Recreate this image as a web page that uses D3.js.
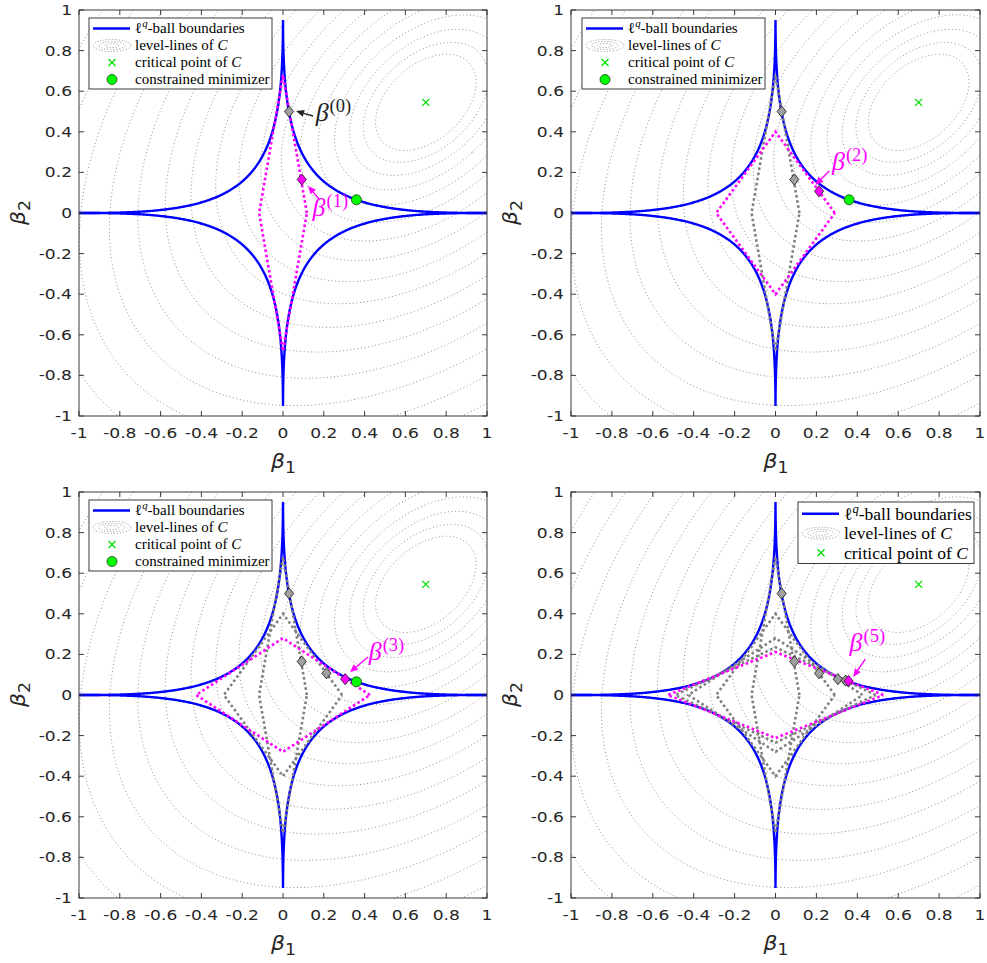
<!DOCTYPE html>
<html>
<head>
<meta charset="utf-8">
<script src="https://cdn.jsdelivr.net/npm/d3@7"></script>
<style>
  body { margin: 0; background: #fff; }
  text { font-family: "DejaVu Sans", sans-serif; }
  .serif, .serif text { font-family: "Liberation Serif", "DejaVu Serif", serif; }
</style>
</head>
<body>
<svg id="fig" width="987" height="963"></svg>
<script>
// ---- data ----
const tickValues = [-1, -0.8, -0.6, -0.4, -0.2, 0, 0.2, 0.4, 0.6, 0.8, 1];
const tickLabels = ["-1", "-0.8", "-0.6", "-0.4", "-0.2", "0", "0.2", "0.4", "0.6", "0.8", "1"];

// l^q ball |b1|^q + |b2|^q = r^q
const lqOrder = 0.4;
const lqRadius = 1;
const lqTipY = 0.945;

// quadratic cost C, its critical point and the drawn level values (sqrt of C)
const critPoint = [0.70, 0.545];
const quadForm = [[1, -0.431], [-0.431, 1.078]];
const levelRho = [0.224, 0.279, 0.340, 0.407, 0.480, 0.560, 0.645, 0.736, 0.834, 0.937,
                  1.047, 1.162, 1.284, 1.411, 1.545, 1.685, 1.831, 1.982, 2.140];

// iterates beta^(0..5)
const iterX = [0.03, 0.092, 0.213, 0.305, 0.343, 0.357];
const iterY = [0.50, 0.165, 0.107, 0.078, 0.071, 0.069];
// weighted l1 balls of iterations 1..5 (vertex on b1 axis, vertex on b2 axis)
const ballX = [0.117, 0.29, 0.426, 0.49, 0.527];
const ballY = [0.68, 0.40, 0.28, 0.235, 0.212];
const minimizer = [0.36, 0.065];

// annotation anchors: [arrow tail, arrow head, text start] in data units
const notes = [
  { k: 0, tail: [0.147, 0.478], head: [0.064, 0.502], text: [0.160, 0.455], color: "#222" },
  { k: 1, tail: [0.181, 0.064], head: [0.123, 0.133], text: [0.145, -0.015], color: "#ff00ff" },
  { k: 2, tail: [0.263, 0.207], head: [0.195, 0.138], text: [0.276, 0.212], color: "#ff00ff" },
  { k: 3, tail: [0.417, 0.187], head: [0.328, 0.113], text: [0.420, 0.172], color: "#ff00ff" },
  { k: 5, tail: [0.439, 0.177], head: [0.380, 0.089], text: [0.362, 0.215], color: "#ff00ff" }
];

const panels = [
  { left: 79, right: 487, top: 10, bottom: 416, step: 1, note: 0,
    legend: { x: 89, y: 18, w: 183, rowH: 17, font: 15, rows: 4 } },
  { left: 571, right: 980, top: 10, bottom: 416, step: 2, note: 2,
    legend: { x: 582, y: 18, w: 183, rowH: 17, font: 15, rows: 4 } },
  { left: 79, right: 487, top: 492, bottom: 898, step: 3, note: 3,
    legend: { x: 89, y: 500, w: 183, rowH: 17, font: 15, rows: 4 } },
  { left: 571, right: 980, top: 492, bottom: 898, step: 5, note: 4,
    legend: { x: 798, y: 502, w: 176, rowH: 19.5, font: 17.5, rows: 3 } }
];

const svg = d3.select("#fig");
const axisColor = "#262626";

// points of the l^q ball boundary, one quadrant, from (r,0) to the tip near (0,r)
function lqQuadrant() {
  const e = 2 / lqOrder;
  const tMax = Math.asin(Math.pow(lqTipY / lqRadius, 1 / e));
  return d3.range(0, 401).map(i => {
    const t = tMax * i / 400;
    return [lqRadius * Math.pow(Math.cos(t), e), lqRadius * Math.pow(Math.sin(t), e)];
  });
}

// level-line ellipse {d : d'Ad = rho^2} around the critical point
function ellipse(rho) {
  const a = quadForm[0][0], b = quadForm[0][1], c = quadForm[1][1];
  const th = 0.5 * Math.atan2(2 * b, a - c);
  const m = (a + c) / 2, h = Math.sqrt(((a - c) / 2) ** 2 + b * b);
  const l1 = m + h, l2 = m - h;
  const v1 = [Math.cos(th), Math.sin(th)], v2 = [-Math.sin(th), Math.cos(th)];
  return d3.range(0, 361).map(i => {
    const t = i * Math.PI / 180;
    const u = rho * Math.cos(t) / Math.sqrt(l1), w = rho * Math.sin(t) / Math.sqrt(l2);
    return [critPoint[0] + u * v1[0] + w * v2[0], critPoint[1] + u * v1[1] + w * v2[1]];
  });
}

// beta^(k) with superscript, serif like the LaTeX labels
function betaLabel(sel, k, big, small, rise) {
  sel.append("tspan").attr("font-size", big).attr("font-style", "italic").text("β");
  sel.append("tspan").attr("font-size", small).attr("dx", 1).attr("dy", -rise).text(`(${k})`);
}

const quad = lqQuadrant();

panels.forEach((p, pi) => {
  const x = d3.scaleLinear().domain([-1, 1]).range([p.left, p.right]);
  const y = d3.scaleLinear().domain([-1, 1]).range([p.bottom, p.top]);
  const line = d3.line().x(d => x(d[0])).y(d => y(d[1]));

  const clipId = "clip" + pi;
  svg.append("clipPath").attr("id", clipId)
    .append("rect")
    .attr("x", p.left).attr("y", p.top)
    .attr("width", p.right - p.left).attr("height", p.bottom - p.top);

  const g = svg.append("g");
  const plot = g.append("g").attr("clip-path", `url(#${clipId})`);

  // level-lines of C
  levelRho.forEach(r => {
    plot.append("path")
      .attr("d", line(ellipse(r)))
      .attr("fill", "none")
      .attr("stroke", "#8f8f8f")
      .attr("stroke-width", 1)
      .attr("stroke-dasharray", "1,2.6");
  });

  // l^q ball boundaries, upper and lower halves
  [1, -1].forEach(sy => {
    const leftPart = quad.map(d => [-d[0], sy * d[1]]);
    const rightPart = quad.slice().reverse().map(d => [d[0], sy * d[1]]);
    plot.append("path")
      .attr("d", line(leftPart.concat(rightPart)))
      .attr("fill", "none")
      .attr("stroke", "#0000ff")
      .attr("stroke-width", 2.4);
  });

  // weighted l1 balls: earlier ones gray, current one magenta (drawn last)
  d3.range(1, p.step + 1).forEach(k => {
    const isCur = k === p.step;
    const a = ballX[k - 1], b = ballY[k - 1];
    plot.append("path")
      .attr("d", line([[a, 0], [0, b], [-a, 0], [0, -b], [a, 0]]))
      .attr("fill", "none")
      .attr("stroke", isCur ? "#ff00ff" : "#808080")
      .attr("stroke-width", 2.6)
      .attr("stroke-dasharray", "2.6,2.6");
  });

  // critical point of C
  const cx = x(critPoint[0]), cy = y(critPoint[1]);
  plot.append("path")
    .attr("d", `M${cx - 3.5},${cy - 3.5}L${cx + 3.5},${cy + 3.5}M${cx - 3.5},${cy + 3.5}L${cx + 3.5},${cy - 3.5}`)
    .attr("stroke", "#00e000")
    .attr("stroke-width", 1.3);

  // constrained minimizer
  if (p.step < 5) {
    plot.append("circle")
      .attr("cx", x(minimizer[0])).attr("cy", y(minimizer[1]))
      .attr("r", 5)
      .attr("fill", "#00ff00")
      .attr("stroke", "#1a3a1a")
      .attr("stroke-width", 0.8);
  }

  // iterates as diamonds
  d3.range(0, p.step + 1).forEach(k => {
    const ix = x(iterX[k]), iy = y(iterY[k]);
    plot.append("path")
      .attr("d", `M${ix},${iy - 5.6}L${ix + 4.6},${iy}L${ix},${iy + 5.6}L${ix - 4.6},${iy}Z`)
      .attr("fill", k === p.step ? "#ff00ff" : "#a0a0a0")
      .attr("stroke", "#111")
      .attr("stroke-width", 0.8);
  });

  // annotations
  const shownNotes = pi === 0 ? [notes[0], notes[1]] : [notes[p.note]];
  shownNotes.forEach(n => {
    const x1 = x(n.tail[0]), y1 = y(n.tail[1]);
    const x2 = x(n.head[0]), y2 = y(n.head[1]);
    const ang = Math.atan2(y2 - y1, x2 - x1);
    const hl = 8, hw = 3.5;
    const bx = x2 - hl * Math.cos(ang), by = y2 - hl * Math.sin(ang);
    g.append("line")
      .attr("x1", x1).attr("y1", y1).attr("x2", bx).attr("y2", by)
      .attr("stroke", n.color).attr("stroke-width", 1.4);
    g.append("path")
      .attr("d", `M${x2},${y2}L${bx - hw * Math.sin(ang)},${by + hw * Math.cos(ang)}L${bx + hw * Math.sin(ang)},${by - hw * Math.cos(ang)}Z`)
      .attr("fill", n.color);
    const t = g.append("text")
      .attr("class", "serif")
      .attr("x", x(n.text[0])).attr("y", y(n.text[1]))
      .attr("fill", n.color);
    betaLabel(t, n.k, 26, 18.5, 9);
  });

  // box and ticks
  g.append("rect")
    .attr("x", p.left).attr("y", p.top)
    .attr("width", p.right - p.left).attr("height", p.bottom - p.top)
    .attr("fill", "none").attr("stroke", axisColor).attr("stroke-width", 0.9);

  tickValues.forEach((v, i) => {
    const tx = x(v), ty = y(v);
    g.append("path")
      .attr("d", `M${tx},${p.bottom}v-5M${tx},${p.top}v5M${p.left},${ty}h5M${p.right},${ty}h-5`)
      .attr("stroke", axisColor).attr("stroke-width", 0.9);
    g.append("text")
      .attr("transform", `translate(${tx},${p.bottom + 22}) scale(1.22,1)`)
      .attr("text-anchor", "middle")
      .attr("font-size", 14)
      .attr("fill", axisColor)
      .text(tickLabels[i]);
    g.append("text")
      .attr("transform", `translate(${p.left - 7},${ty + 5}) scale(1.22,1)`)
      .attr("text-anchor", "end")
      .attr("font-size", 14)
      .attr("fill", axisColor)
      .text(tickLabels[i]);
  });

  // axis labels
  const xl = g.append("text")
    .attr("transform", `translate(${(p.left + p.right) / 2 - 12},${p.bottom + 52}) scale(1.15,1)`)
    .attr("fill", axisColor);
  xl.append("tspan").attr("font-size", 19).attr("font-style", "italic").text("β");
  xl.append("tspan").attr("font-size", 15).attr("dy", 5).text("1");

  const yl = g.append("text")
    .attr("transform", `translate(${p.left - 54},${(p.top + p.bottom) / 2 + 12}) rotate(-90) scale(1.15,1)`)
    .attr("fill", axisColor);
  yl.append("tspan").attr("font-size", 19).attr("font-style", "italic").text("β");
  yl.append("tspan").attr("font-size", 15).attr("dy", 5).text("2");

  // legend
  const L = p.legend;
  const h = L.rowH * L.rows + 3;
  const lg = g.append("g").attr("class", "serif");
  lg.append("rect")
    .attr("x", L.x).attr("y", L.y).attr("width", L.w).attr("height", h)
    .attr("fill", "#fff").attr("stroke", axisColor).attr("stroke-width", 0.9);
  const rowY = i => L.y + 2 + L.rowH * (i + 0.5);
  const mx = L.x + 23;

  lg.append("line")
    .attr("x1", L.x + 4).attr("x2", L.x + 41)
    .attr("y1", rowY(0)).attr("y2", rowY(0))
    .attr("stroke", "#0000ff").attr("stroke-width", 2.4);
  [[19, 6], [13, 4], [7, 2]].forEach(e => {
    lg.append("ellipse")
      .attr("cx", mx).attr("cy", rowY(1)).attr("rx", e[0]).attr("ry", e[1])
      .attr("fill", "none").attr("stroke", "#8f8f8f").attr("stroke-width", 1)
      .attr("stroke-dasharray", "1,2");
  });
  lg.append("path")
    .attr("d", `M${mx - 3.5},${rowY(2) - 3.5}l7,7M${mx - 3.5},${rowY(2) + 3.5}l7,-7`)
    .attr("stroke", "#00e000").attr("stroke-width", 1.3);
  if (L.rows === 4) {
    lg.append("circle")
      .attr("cx", mx).attr("cy", rowY(3)).attr("r", 5)
      .attr("fill", "#00ff00").attr("stroke", "#1a3a1a").attr("stroke-width", 0.8);
  }

  const tx = L.x + 46;
  const fs = L.font;
  const t0 = lg.append("text").attr("x", tx).attr("y", rowY(0) + fs * 0.33).attr("font-size", fs);
  t0.append("tspan").text("ℓ");
  t0.append("tspan").attr("font-style", "italic").attr("font-size", fs * 0.72).attr("dy", -fs * 0.4).text("q");
  t0.append("tspan").attr("dy", fs * 0.4).text("-ball boundaries");
  const t1 = lg.append("text").attr("x", tx).attr("y", rowY(1) + fs * 0.33).attr("font-size", fs);
  t1.append("tspan").text("level-lines of ");
  t1.append("tspan").attr("font-style", "italic").text("C");
  const t2 = lg.append("text").attr("x", tx).attr("y", rowY(2) + fs * 0.33).attr("font-size", fs);
  t2.append("tspan").text("critical point of ");
  t2.append("tspan").attr("font-style", "italic").text("C");
  if (L.rows === 4) {
    lg.append("text").attr("x", tx).attr("y", rowY(3) + fs * 0.33).attr("font-size", fs)
      .text("constrained minimizer");
  }
});
</script>
</body>
</html>
